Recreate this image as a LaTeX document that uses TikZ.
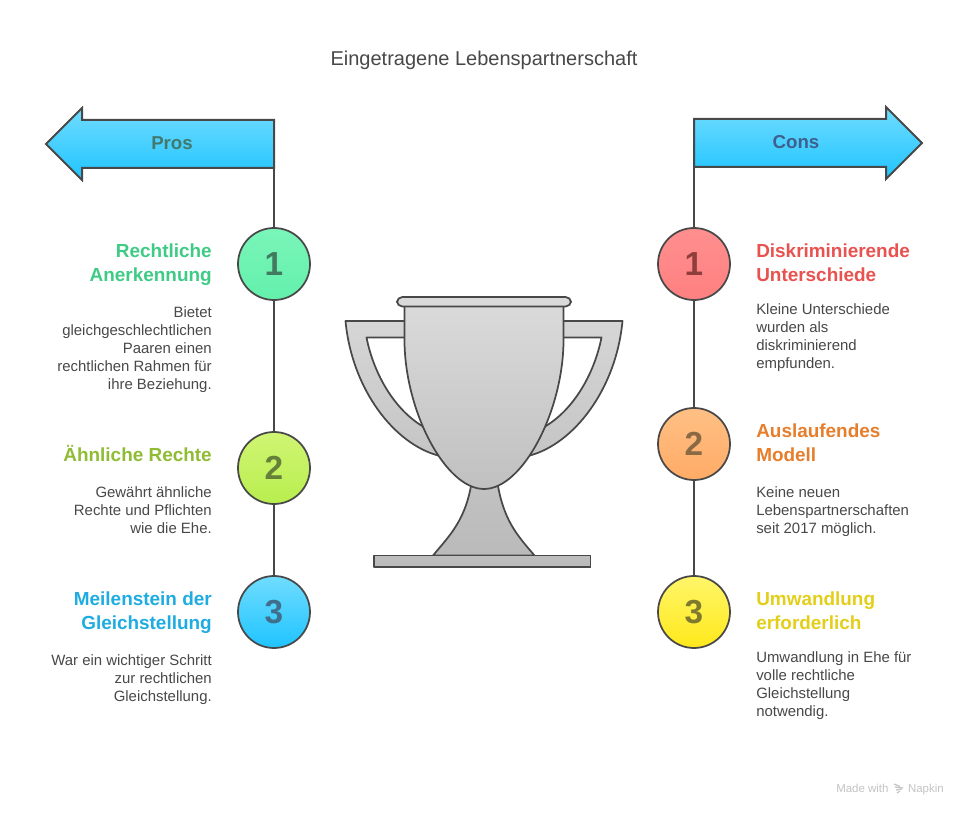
\documentclass[tikz,border=0pt]{standalone}
\usepackage{fontspec}
\setmainfont{Liberation Sans}
\definecolor{ink}{HTML}{484848}
\definecolor{skyT}{HTML}{70DCFF}
\definecolor{skyB}{HTML}{1FC4FF}
\definecolor{prosT}{HTML}{43796C}
\definecolor{consT}{HTML}{3F5F8E}
\definecolor{greenT}{HTML}{3ECB86}
\definecolor{limeT}{HTML}{8FBC33}
\definecolor{blueT}{HTML}{1FACE0}
\definecolor{redT}{HTML}{E8524F}
\definecolor{orangeT}{HTML}{E67E2C}
\definecolor{yellowT}{HTML}{E3CF1A}
\definecolor{footer}{HTML}{C4C4C4}
\newcommand{\ttlstrut}{\rule{0pt}{13.5pt}}
\newcommand{\bodstrut}{\rule{0pt}{10.5pt}}
\tikzset{
  x=0.75pt,y=-0.75pt,
  outl/.style={draw=ink,line width=1.5pt,line join=miter},
  cupline/.style={draw=ink,line width=1.3pt,line join=round},
  spine/.style={draw=ink,line width=1.5pt},
  badge/.style={circle,minimum size=54pt,inner sep=0pt,draw=ink,line width=1.3pt,font=\fontsize{25}{28}\selectfont\bfseries},
  ttl/.style={font=\fontsize{14.2}{18}\selectfont\bfseries,inner sep=0pt},
  body/.style={font=\fontsize{11.2}{13.5}\selectfont,text=ink,inner sep=0pt},
  lefttxt/.style={anchor=north east,align=right},
  righttxt/.style={anchor=north west,align=left},
  arrowlabel/.style={font=\fontsize{14}{18}\selectfont\bfseries,inner sep=0pt},
  foot/.style={font=\fontsize{8.6}{10}\selectfont,text=footer,inner sep=0pt},
}
\begin{document}
\begin{tikzpicture}
\useasboundingbox[fill=white] (0,0) rectangle (968,816);
\node[font=\fontsize{15}{18}\selectfont,text=ink,inner sep=0pt] (heading) at (484,60) {Eingetragene Lebenspartnerschaft};

% arrows
\path[outl,top color=skyT,bottom color=skyB] (274,120) -- (82,120) -- (82,108) -- (46,144) -- (82,180) -- (82,168) -- (274,168) -- cycle;
\path[outl,top color=skyT,bottom color=skyB] (694,119) -- (886,119) -- (886,107) -- (922,143) -- (886,179) -- (886,167) -- (694,167) -- cycle;
\node[arrowlabel,text=prosT] (pros) at (172,143) {Pros};
\node[arrowlabel,text=consT] (cons) at (796,142) {Cons};

% badges
\node[badge,shade,top color={rgb,255:red,122;green,245;blue,185},bottom color={rgb,255:red,99;green,240;blue,172},text={rgb,255:red,66;green,122;blue,96}] (p1) at (274,264) {1};
\node[badge,shade,top color={rgb,255:red,208;green,245;blue,115},bottom color={rgb,255:red,184;green,238;blue,78},text={rgb,255:red,102;green,128;blue,58}] (p2) at (274,468) {2};
\node[badge,shade,top color={rgb,255:red,112;green,220;blue,255},bottom color={rgb,255:red,31;green,196;blue,255},text={rgb,255:red,63;green,111;blue,138}] (p3) at (274,612) {3};
\node[badge,shade,top color={rgb,255:red,255;green,143;blue,143},bottom color={rgb,255:red,255;green,128;blue,128},text={rgb,255:red,143;green,62;blue,62}] (c1) at (694,264) {1};
\node[badge,shade,top color={rgb,255:red,255;green,192;blue,133},bottom color={rgb,255:red,255;green,171;blue,102},text={rgb,255:red,138;green,106;blue,69}] (c2) at (694,444) {2};
\node[badge,shade,top color={rgb,255:red,255;green,246;blue,106},bottom color={rgb,255:red,255;green,232;blue,26},text={rgb,255:red,127;green,122;blue,47}] (c3) at (694,612) {3};

% spines
\coordinate (pt) at (274,168);
\coordinate (ct) at (694,167);
\draw[spine] (pt) -- (p1);
\draw[spine] (p1) -- (p2);
\draw[spine] (p2) -- (p3);
\draw[spine] (ct) -- (c1);
\draw[spine] (c1) -- (c2);
\draw[spine] (c2) -- (c3);

% left texts
\node[ttl,lefttxt,text=greenT] (pt1) at (212,239.5) {\ttlstrut Rechtliche\\Anerkennung};
\node[body,lefttxt] (pb1) at (212,303) {\bodstrut Bietet\\gleichgeschlechtlichen\\Paaren einen\\rechtlichen Rahmen für\\ihre Beziehung.};
\node[ttl,lefttxt,text=limeT] (pt2) at (212,443.5) {\ttlstrut Ähnliche Rechte};
\node[body,lefttxt] (pb2) at (212,483) {\bodstrut Gewährt ähnliche\\Rechte und Pflichten\\wie die Ehe.};
\node[ttl,lefttxt,text=blueT] (pt3) at (212,587.5) {\ttlstrut Meilenstein der\\Gleichstellung};
\node[body,lefttxt] (pb3) at (212,651) {\bodstrut War ein wichtiger Schritt\\zur rechtlichen\\Gleichstellung.};

% right texts
\node[ttl,righttxt,text=redT] (ct1) at (756,239.5) {\ttlstrut Diskriminierende\\Unterschiede};
\node[body,righttxt] (cb1) at (756,300) {\bodstrut Kleine Unterschiede\\wurden als\\diskriminierend\\empfunden.};
\node[ttl,righttxt,text=orangeT] (ct2) at (756,419.5) {\ttlstrut Auslaufendes\\Modell};
\node[body,righttxt] (cb2) at (756,483) {\bodstrut Keine neuen\\Lebenspartnerschaften\\seit 2017 möglich.};
\node[ttl,righttxt,text=yellowT] (ct3) at (756,587.5) {\ttlstrut Umwandlung\\erforderlich};
\node[body,righttxt] (cb3) at (756,648) {\bodstrut Umwandlung in Ehe für\\volle rechtliche\\Gleichstellung\\notwendig.};

% trophy
\path[cupline,top color={rgb,255:red,214;green,214;blue,214},bottom color={rgb,255:red,197;green,197;blue,197}]
  (410,321) -- (345.5,321) .. controls (352,390) and (395,445) .. (440,456) -- (423,426.5) .. controls (395,410) and (374,375) .. (366.5,337.5) -- (410,337.5) -- cycle;
\path[cupline,top color={rgb,255:red,214;green,214;blue,214},bottom color={rgb,255:red,197;green,197;blue,197}]
  (558,321) -- (622.5,321) .. controls (616,390) and (573,445) .. (528,456) -- (545,426.5) .. controls (573,410) and (594,375) .. (601.5,337.5) -- (558,337.5) -- cycle;
\path[cupline,top color={rgb,255:red,194;green,194;blue,194},bottom color={rgb,255:red,186;green,186;blue,186}]
  (472,480) .. controls (466,520) and (450,535) .. (433,555.5) -- (534.5,555.5) .. controls (517,535) and (503,520) .. (497,480) -- cycle;
\path[cupline,top color={rgb,255:red,190;green,190;blue,190},bottom color={rgb,255:red,186;green,186;blue,186}]
  (374,555.5) rectangle (590.5,567);
\path[cupline,top color={rgb,255:red,218;green,218;blue,218},bottom color={rgb,255:red,192;green,192;blue,192}]
  (404.5,306) -- (404.5,340) .. controls (404.5,410) and (445,489) .. (484,489) .. controls (523,489) and (563.5,410) .. (563.5,340) -- (563.5,306) -- cycle;
\path[cupline,fill={rgb,255:red,218;green,218;blue,218},rounded corners=4pt]
  (397,297) rectangle (571,306.5);

% footer
\node[foot,anchor=base west] (made) at (836,792) {Made with};
\node[foot,anchor=base east] (napkin) at (944,792) {Napkin};
\coordinate (logoA) at (894,784);
\coordinate (logoB) at (895,787);
\coordinate (logoC) at (896,790);
\coordinate (logoD) at (897,793);
\draw[footer,line width=0.9pt] (logoA) -- ++(6,2.5);
\draw[footer,line width=0.9pt] (logoB) -- ++(8,1);
\draw[footer,line width=0.9pt] (logoC) -- ++(6,-1);
\draw[footer,line width=0.9pt] (logoD) -- ++(3,-2);
\end{tikzpicture}
\end{document}
